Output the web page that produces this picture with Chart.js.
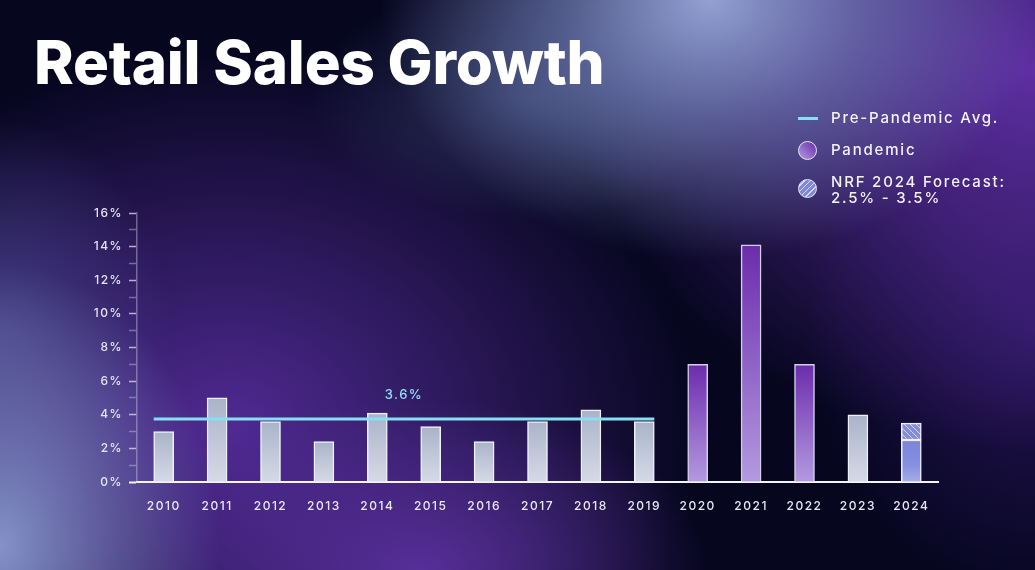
<!DOCTYPE html>
<html>
<head>
<meta charset="utf-8">
<script src="https://cdn.jsdelivr.net/npm/chart.js@4.4.1/dist/chart.umd.min.js"></script>
<style>
  html, body { margin: 0; padding: 0; }
  #stage {
    position: relative;
    width: 1035px;
    height: 570px;
    overflow: hidden;
    font-family: Inter, "Noto Sans", sans-serif;
    background:
      radial-gradient(ellipse 330px 260px at 710px 0px, rgba(150,165,215,0.97) 0%, rgba(125,140,200,0.6) 45%, rgba(125,140,200,0) 100%),
      radial-gradient(ellipse 220px 120px at 530px 100px, rgba(80,95,150,0.5), rgba(80,95,150,0) 100%),
      radial-gradient(ellipse 460px 380px at 1035px 70px, rgba(98,48,168,0.97), rgba(98,48,168,0) 100%),
      radial-gradient(ellipse 220px 280px at 0px 545px, rgba(135,150,205,0.97), rgba(135,150,205,0) 100%),
      radial-gradient(ellipse 170px 210px at 0px 330px, rgba(75,70,145,0.8), rgba(75,70,145,0) 100%),
      radial-gradient(ellipse 470px 380px at 230px 430px, rgba(88,46,160,0.9), rgba(88,46,160,0) 100%),
      radial-gradient(ellipse 290px 170px at 420px 570px, rgba(105,58,175,0.8), rgba(105,58,175,0) 100%),
      radial-gradient(ellipse 230px 270px at 1035px 330px, rgba(50,25,110,0.7), rgba(50,25,110,0) 100%),
      #06061f;
  }
  #chart { position: absolute; left: 0; top: 0; }
  #title {
    position: absolute;
    left: 34px;
    top: 22px;
    margin: 0;
    color: #fff;
    font-size: 60px;
    font-weight: 800;
    letter-spacing: -0.2px;
    line-height: 80px;
  }
  .leg {
    position: absolute;
    left: 831px;
    margin: 0;
    color: #f2f2fa;
    font-size: 15px;
    font-weight: 500;
    letter-spacing: 1.8px;
    line-height: 16px;
    white-space: nowrap;
  }
  .ico { position: absolute; }
  .ico.line { left: 798px; top: 117px; width: 20px; height: 3px; background: #86e0f2; }
  .ico.dot { width: 19px; height: 19px; border-radius: 50%; border: 1.5px solid #e8e6f4; box-sizing: border-box; left: 798px; }
  .ico.pandemic { top: 141px; background: linear-gradient(45deg, #b49ce2, #6a2aa8); }
  .ico.forecast { top: 179px; background: repeating-linear-gradient(-45deg, #8188d6 0 3px, #d2d6f6 3px 4px); }
</style>
</head>
<body>
<div id="stage">
  <canvas id="chart" width="1035" height="570"></canvas>
  <h1 id="title">Retail Sales Growth</h1>
  <span class="ico line"></span>
  <p class="leg" style="top:110px">Pre-Pandemic Avg.</p>
  <span class="ico dot pandemic"></span>
  <p class="leg" style="top:142px">Pandemic</p>
  <span class="ico dot forecast"></span>
  <p class="leg" style="top:174px">NRF 2024 Forecast:<br>2.5% - 3.5%</p>
</div>
<script>
// Data
const years = ['2010', '2011', '2012', '2013', '2014', '2015', '2016', '2017', '2018', '2019', '2020', '2021', '2022', '2023', '2024'];
const growth = [3.0, 5.0, 3.6, 2.4, 4.1, 3.3, 2.4, 3.6, 4.3, 3.6, 7.0, 14.1, 7.0, 4.0, 2.5];
const forecastRange = [null, null, null, null, null, null, null, null, null, null, null, null, null, null, 1.0];
const pandemicYears = ['2020', '2021', '2022'];
const forecastYear = '2024';
const avgFrom = '2010';
const avgTo = '2019';
const avgValue = 3.75;
const avgLabel = '3.6%';
const yMax = 16;

// Hatch pattern for the forecast range
function makeHatch() {
    const c = document.createElement('canvas');
    c.width = 6; c.height = 6;
    const g = c.getContext('2d');
    g.fillStyle = '#858cd8';
    g.fillRect(0, 0, 6, 6);
    g.strokeStyle = 'rgba(215,220,250,0.9)';
    g.lineWidth = 1;
    g.beginPath();
    g.moveTo(0, 0); g.lineTo(6, 6);
    g.moveTo(-3, 3); g.lineTo(3, 9);
    g.moveTo(3, -3); g.lineTo(9, 3);
    g.stroke();
    return g.createPattern(c, 'repeat');
}
const hatch = makeHatch();

function barFill(ctx) {
    const chart = ctx.chart;
    if (!chart.chartArea) return '#b0b8cc';
    const yScale = chart.scales.y;
    const i = ctx.dataIndex;
    const top = yScale.getPixelForValue(growth[i]);
    const bottom = yScale.getPixelForValue(0);
    const g = chart.ctx.createLinearGradient(0, top, 0, bottom);
    const yr = years[i];
    if (pandemicYears.includes(yr)) {
        g.addColorStop(0, '#6c2cac');
        g.addColorStop(1, '#b39ae0');
    } else if (yr === forecastYear) {
        g.addColorStop(0, '#7c84dc');
        g.addColorStop(0.6, '#8890e0');
        g.addColorStop(1, '#a6aeea');
    } else {
        g.addColorStop(0, '#a9b3c9');
        g.addColorStop(1, '#d6dae6');
    }
    return g;
}

function barBorder(ctx) {
    return pandemicYears.includes(years[ctx.dataIndex]) ? '#d4cfe8' : '#eef0f8';
}

// Pre-pandemic average line and label, drawn on the scales
const avgLinePlugin = {
    id: 'avgLine',
    beforeDraw(chart) {
        chart.ctx.letterSpacing = '1.5px';
    },
    afterDatasetsDraw(chart) {
        const { ctx, scales: { x, y } } = chart;
        const meta = chart.getDatasetMeta(0);
        const half = meta.data[0].width / 2;
        const x0 = x.getPixelForValue(years.indexOf(avgFrom)) - half;
        const x1 = x.getPixelForValue(years.indexOf(avgTo)) + half;
        const yy = y.getPixelForValue(avgValue);
        ctx.save();
        ctx.strokeStyle = '#86e0f2';
        ctx.lineWidth = 3;
        ctx.beginPath();
        ctx.moveTo(x0, yy);
        ctx.lineTo(x1, yy);
        ctx.stroke();
        const mid = (x.getPixelForValue(4) + x.getPixelForValue(5)) / 2;
        ctx.fillStyle = '#8ee2f4';
        ctx.font = '500 13px Inter, sans-serif';
        ctx.letterSpacing = '1.5px';
        ctx.textAlign = 'center';
        ctx.textBaseline = 'alphabetic';
        ctx.fillText(avgLabel, mid, yy - 20);
        ctx.restore();
    }
};

const chart = new Chart(document.getElementById('chart'), {
    type: 'bar',
    data: {
        labels: years,
        datasets: [
            {
                label: 'Growth',
                data: growth,
                backgroundColor: barFill,
                borderColor: barBorder,
                borderWidth: 1.5,
                borderSkipped: 'start',
                barThickness: 20,
                stack: 's'
            },
            {
                label: 'Forecast range',
                data: forecastRange,
                backgroundColor: hatch,
                borderColor: '#eef0f8',
                borderWidth: 1.5,
                borderSkipped: false,
                barThickness: 20,
                stack: 's'
            }
        ]
    },
    options: {
        responsive: false,
        animation: false,
        layout: { padding: { top: 213, right: 97, bottom: 0, left: 0 } },
        plugins: {
            legend: { display: false },
            tooltip: { enabled: false }
        },
        scales: {
            x: {
                stacked: true,
                grid: { display: false, drawTicks: false },
                border: { color: '#f4f4fb', width: 2 },
                ticks: {
                    color: '#e8e8f4',
                    font: { family: 'Inter', size: 12, weight: 500 },
                    padding: 17,
                    maxRotation: 0
                },
                afterFit(scale) { scale.height = 88; }
            },
            y: {
                stacked: true,
                min: 0,
                max: yMax,
                grid: {
                    drawOnChartArea: false,
                    tickLength: 8,
                    tickColor: c => c.tick.value === 0 ? '#f4f4fb' : (c.tick.value % 2 === 0 ? 'rgba(225,225,245,0.75)' : 'rgba(200,200,235,0.45)'),
                    tickWidth: c => c.tick.value === 0 ? 2 : 1.5
                },
                border: { color: 'rgba(200,200,235,0.45)', width: 1.5 },
                ticks: {
                    stepSize: 1,
                    autoSkip: false,
                    color: '#e4e4f2',
                    font: { family: 'Inter', size: 12, weight: 500 },
                    padding: 6,
                    callback: v => v % 2 === 0 ? v + '%' : ''
                },
                afterFit(scale) { scale.width = 137; }
            }
        }
    },
    plugins: [avgLinePlugin]
});
</script>
</body>
</html>
